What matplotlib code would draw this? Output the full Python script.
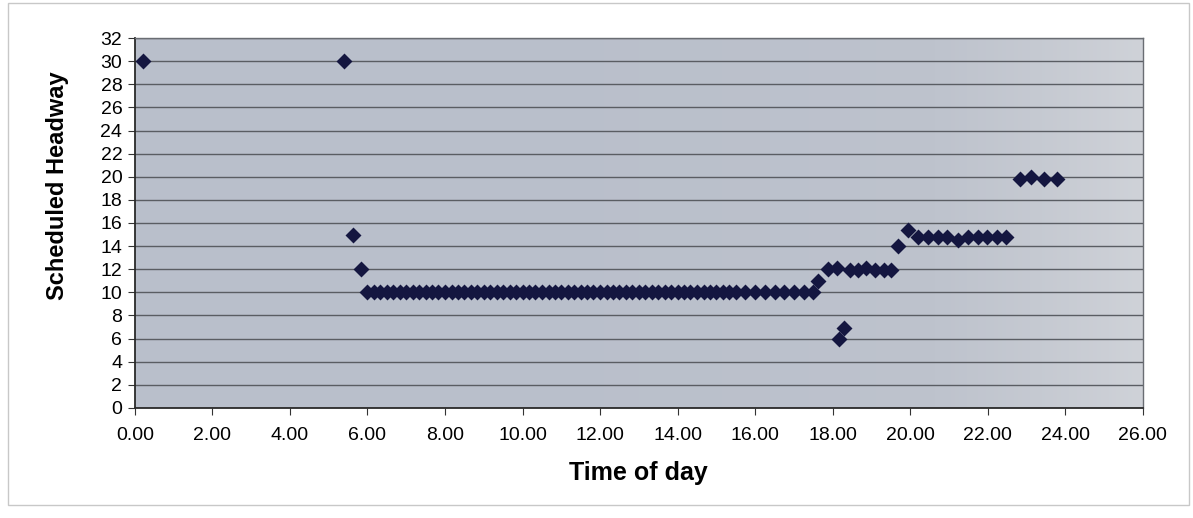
"""Scheduled headway by time of day (scatter of trips)."""

import numpy as np
import matplotlib
matplotlib.use("Agg")
import matplotlib.pyplot as plt
from matplotlib.colors import LinearSegmentedColormap
from matplotlib.patches import Rectangle

# departure time (decimal hours) and scheduled headway (minutes)
early_times = [0.20, 5.39, 5.63, 5.83]
early_headway = [30, 30, 15, 12]

# base 10-minute service through the day
base_times = [
    6.00, 6.17, 6.33, 6.50, 6.67, 6.83, 7.00, 7.17, 7.33, 7.50, 7.67, 7.83,
    8.00, 8.17, 8.33, 8.50, 8.67, 8.83, 9.00, 9.17, 9.33, 9.50, 9.67, 9.83,
    10.00, 10.17, 10.33, 10.50, 10.67, 10.83, 11.00, 11.17, 11.33, 11.50, 11.67, 11.83,
    12.00, 12.17, 12.33, 12.50, 12.67, 12.83, 13.00, 13.17, 13.33, 13.50, 13.67, 13.83,
    14.00, 14.17, 14.33, 14.50, 14.67, 14.83, 15.00, 15.17, 15.33, 15.50,
    15.75, 16.00, 16.25, 16.50, 16.75, 17.00, 17.25, 17.50,
]
base_headway = [10] * len(base_times)

late_times = [
    17.63, 17.87, 18.10, 18.15, 18.28, 18.45, 18.65, 18.86, 19.09, 19.31, 19.51,
    19.69, 19.95, 20.19, 20.45, 20.72, 20.96, 21.22, 21.48, 21.74, 21.99, 22.23, 22.46,
    22.82, 23.12, 23.45, 23.79,
]
late_headway = [
    11, 12, 12.1, 6, 6.9, 11.9, 11.9, 12.1, 11.9, 11.9, 11.9,
    14, 15.4, 14.8, 14.8, 14.8, 14.8, 14.5, 14.8, 14.8, 14.8, 14.8, 14.8,
    19.8, 20, 19.8, 19.8,
]

times = early_times + base_times + late_times
headway = early_headway + base_headway + late_headway

x_ticks = [0, 2, 4, 6, 8, 10, 12, 14, 16, 18, 20, 22, 24, 26]
y_ticks = list(range(0, 33, 2))

plt.rcParams["font.family"] = ["Liberation Sans", "DejaVu Sans"]

fig = plt.figure(figsize=(11.93, 5.18), dpi=100)
fig.patches.append(Rectangle((0.007, 0.025), 0.99, 0.97, transform=fig.transFigure,
                             fill=False, edgecolor="#c8c8c8", linewidth=1.0))

ax = fig.add_axes([0.113, 0.2124, 0.845, 0.7142])

# scanned-looking plot area: bluish grey, lighter toward the right edge
bg = LinearSegmentedColormap.from_list("bg", ["#b9bfcb", "#bec3cd", "#cfd2d8"])
ax.imshow(np.linspace(0, 1, 256).reshape(1, -1) ** 3, cmap=bg, aspect="auto",
          extent=(0, 1, 0, 1), transform=ax.transAxes, zorder=0)

ax.grid(axis="y", color="#5a5d63", linewidth=1.0)
ax.set_axisbelow(True)

ax.scatter(times, headway, marker="D", s=66, color="#141640", zorder=3, linewidths=0)

ax.set_xlim(0, 26)
ax.set_ylim(0, 32)
ax.set_xticks(x_ticks)
ax.set_xticklabels([f"{t:.2f}" for t in x_ticks])
ax.set_yticks(y_ticks)
ax.tick_params(axis="both", labelsize=14, color="#333333", length=5, direction="out")
ax.tick_params(axis="x", pad=9)
ax.tick_params(axis="y", pad=4)

for side in ("top", "right"):
    ax.spines[side].set_color("#6a6d73")
    ax.spines[side].set_linewidth(1.0)
for side in ("left", "bottom"):
    ax.spines[side].set_color("#2a2a2a")
    ax.spines[side].set_linewidth(1.3)

ax.set_xlabel("Time of day", fontsize=18, fontweight="bold", labelpad=12)
ax.set_ylabel("Scheduled Headway", fontsize=17, fontweight="bold")
ax.yaxis.set_label_coords(-0.065, 0.6)

fig.savefig("out.png", dpi=100)
